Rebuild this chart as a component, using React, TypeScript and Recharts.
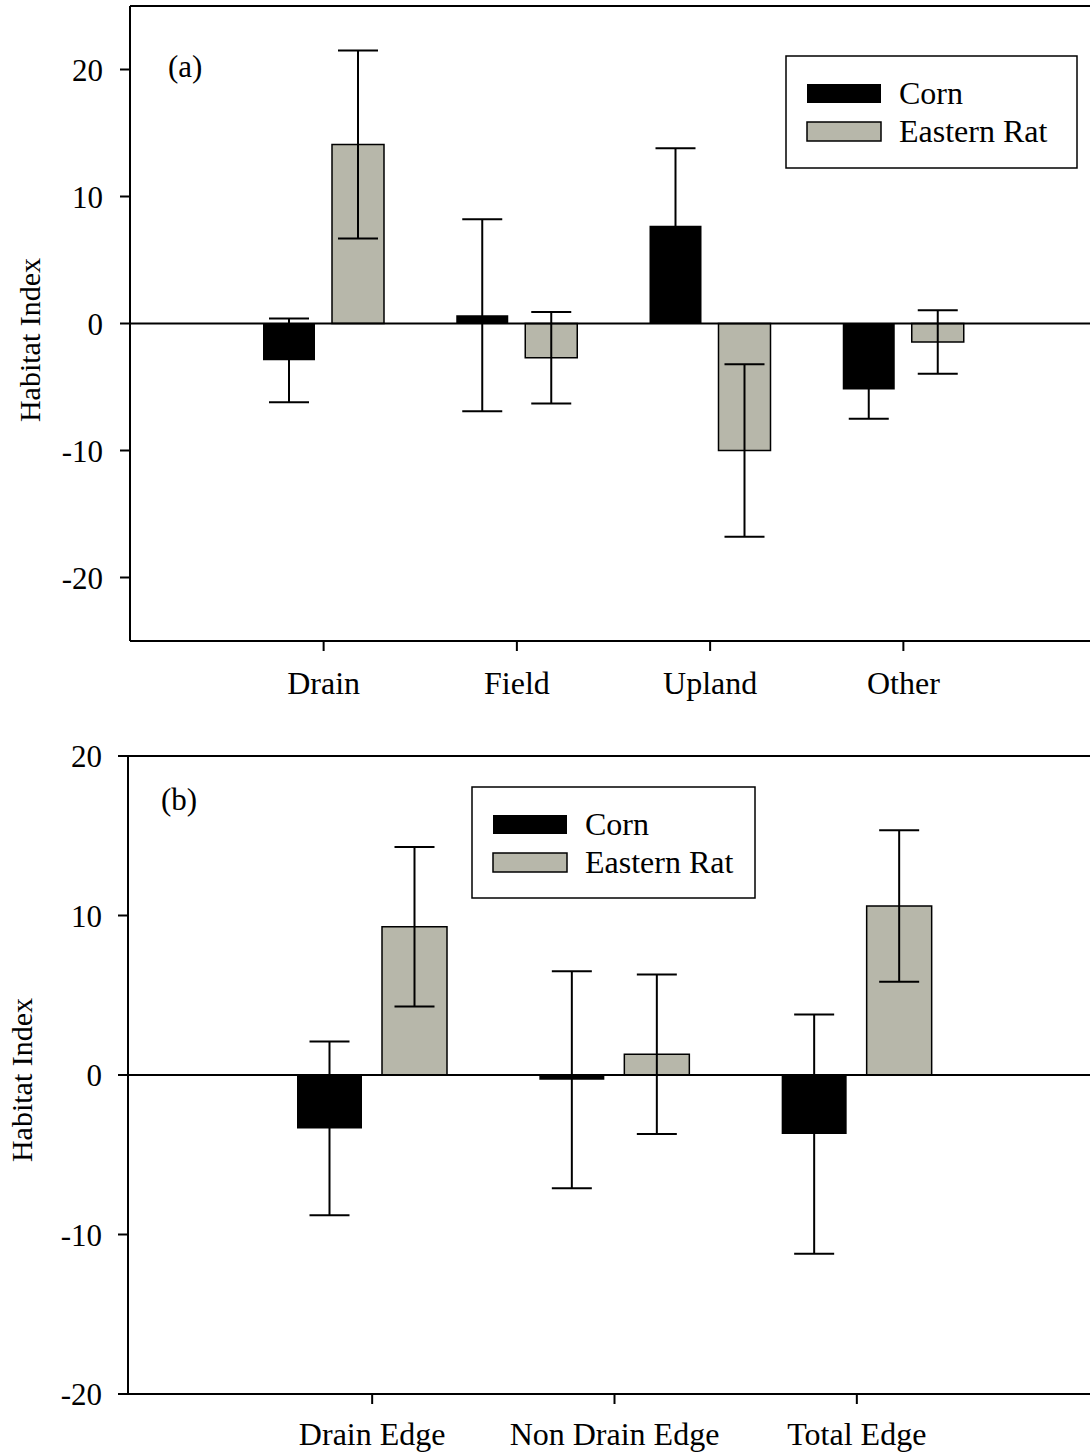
import { BarChart, Bar, XAxis, YAxis, ErrorBar, ReferenceLine } from "recharts";

// panel (a): habitat types
const habitats = ["Drain", "Field", "Upland", "Other"];
const cornA = [-2.9, 0.65, 7.7, -5.2];
const cornErrA = [3.3, 7.55, 6.1, 2.3];
const ratA = [14.1, -2.7, -10.0, -1.45];
const ratErrA = [7.4, 3.6, 6.8, 2.5];

// panel (b): edge types
const edges = ["Drain Edge", "Non Drain Edge", "Total Edge"];
const cornB = [-3.35, -0.3, -3.7];
const cornErrB = [5.45, 6.8, 7.5];
const ratB = [9.3, 1.3, 10.6];
const ratErrB = [5.0, 5.0, 4.75];

const seriesNames = ["Corn", "Eastern Rat"];
const yTicks = [-20, -10, 0, 10, 20];

const FONT = "'Liberation Serif', 'Times New Roman', serif";
const CORN = "#000000";
const RAT = "#b7b7aa";

const dataA = habitats.map((name, i) => ({
  name,
  corn: cornA[i],
  cornErr: cornErrA[i],
  rat: ratA[i],
  ratErr: ratErrA[i],
}));

const dataB = edges.map((name, i) => ({
  name,
  corn: cornB[i],
  cornErr: cornErrB[i],
  rat: ratB[i],
  ratErr: ratErrB[i],
}));

const yTickStyle = { fill: "#000", fontSize: 31, fontFamily: FONT };
const xTickStyle = { fill: "#000", fontSize: 32, fontFamily: FONT };
const lineStyle = { stroke: "#000", strokeWidth: 2 };

function axisTitle(x: number, y: number) {
  return () => (
    <text
      x={x}
      y={y}
      transform={`rotate(-90, ${x}, ${y})`}
      textAnchor="middle"
      fontSize={30}
      fontFamily={FONT}
      fill="#000"
    >
      Habitat Index
    </text>
  );
}

function LegendBox({ x, y, w, h }: { x: number; y: number; w: number; h: number }) {
  return (
    <g>
      <rect x={x} y={y} width={w} height={h} fill="#fff" stroke="#000" strokeWidth={1.5} />
      <rect x={x + 21} y={y + 28} width={74} height={19} fill={CORN} />
      <rect x={x + 21} y={y + 66} width={74} height={19} fill={RAT} stroke="#000" strokeWidth={1.5} />
      <text x={x + 113} y={y + 48} fontSize={32} fontFamily={FONT} fill="#000">
        {seriesNames[0]}
      </text>
      <text x={x + 113} y={y + 86} fontSize={32} fontFamily={FONT} fill="#000">
        {seriesNames[1]}
      </text>
    </g>
  );
}

export default function App() {
  return (
    <div
      style={{
        position: "absolute",
        left: 0,
        top: 0,
        width: 1090,
        height: 1454,
        overflow: "hidden",
        background: "#fff",
      }}
    >
      <div style={{ position: "absolute", left: 0, top: 0 }}>
        <BarChart
          width={1098}
          height={720}
          data={dataA}
          margin={{ top: 6, right: 1, bottom: 19, left: 0 }}
          barSize={52}
          barGap={17}
        >
          <XAxis
            dataKey="name"
            height={60}
            padding={{ left: 97, right: 97 }}
            tick={xTickStyle}
            tickSize={10}
            tickMargin={20}
            tickLine={lineStyle}
            axisLine={lineStyle}
            interval={0}
          />
          <YAxis
            width={130}
            domain={[-25, 25]}
            ticks={yTicks}
            interval={0}
            tick={yTickStyle}
            tickSize={10}
            tickMargin={17}
            tickLine={lineStyle}
            axisLine={lineStyle}
            label={{ value: "Habitat Index", content: axisTitle(40, 340) }}
          />
          <Bar dataKey="corn" name={seriesNames[0]} fill={CORN} isAnimationActive={false}>
            <ErrorBar dataKey="cornErr" width={20} stroke="#000" strokeWidth={2} isAnimationActive={false} />
          </Bar>
          <Bar dataKey="rat" name={seriesNames[1]} fill={RAT} stroke="#000" strokeWidth={1.5} isAnimationActive={false}>
            <ErrorBar dataKey="ratErr" width={20} stroke="#000" strokeWidth={2} isAnimationActive={false} />
          </Bar>
          <ReferenceLine y={0} stroke="#000" strokeWidth={2} />
          <ReferenceLine y={25} stroke="#000" strokeWidth={2} />
        </BarChart>
      </div>

      <div style={{ position: "absolute", left: 0, top: 720 }}>
        <BarChart
          width={1102}
          height={734}
          data={dataB}
          margin={{ top: 36, right: 1, bottom: 10, left: 0 }}
          barSize={65}
          barGap={20}
        >
          <XAxis
            dataKey="name"
            height={50}
            padding={{ left: 123, right: 123 }}
            tick={xTickStyle}
            tickSize={10}
            tickMargin={18}
            tickLine={lineStyle}
            axisLine={lineStyle}
            interval={0}
          />
          <YAxis
            width={128}
            domain={[-20, 20]}
            ticks={yTicks}
            interval={0}
            tick={yTickStyle}
            tickSize={10}
            tickMargin={16}
            tickLine={lineStyle}
            axisLine={lineStyle}
            label={{ value: "Habitat Index", content: axisTitle(32, 360) }}
          />
          <Bar dataKey="corn" name={seriesNames[0]} fill={CORN} isAnimationActive={false}>
            <ErrorBar dataKey="cornErr" width={20} stroke="#000" strokeWidth={2} isAnimationActive={false} />
          </Bar>
          <Bar dataKey="rat" name={seriesNames[1]} fill={RAT} stroke="#000" strokeWidth={1.5} isAnimationActive={false}>
            <ErrorBar dataKey="ratErr" width={20} stroke="#000" strokeWidth={2} isAnimationActive={false} />
          </Bar>
          <ReferenceLine y={0} stroke="#000" strokeWidth={2} />
          <ReferenceLine y={20} stroke="#000" strokeWidth={2} />
        </BarChart>
      </div>

      <svg
        width={1090}
        height={1454}
        style={{ position: "absolute", left: 0, top: 0, pointerEvents: "none" }}
      >
        <text x={168} y={77} fontSize={31} fontFamily={FONT} fill="#000">
          (a)
        </text>
        <text x={161} y={810} fontSize={31} fontFamily={FONT} fill="#000">
          (b)
        </text>
        <LegendBox x={786} y={56} w={291} h={112} />
        <LegendBox x={472} y={787} w={283} h={111} />
      </svg>
    </div>
  );
}
